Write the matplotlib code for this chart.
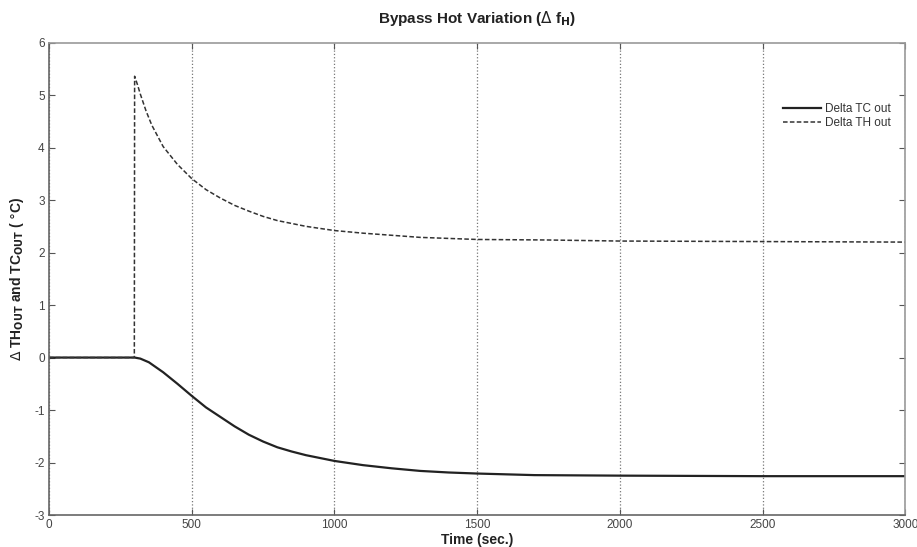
import matplotlib
matplotlib.use("Agg")
import matplotlib.pyplot as plt

plt.rcParams['font.family'] = ['Liberation Sans', 'DejaVu Sans']
plt.rcParams['axes.unicode_minus'] = False

# time points (sec) and values
t_tc = [0, 300, 320, 350, 400, 450, 500, 550, 600, 650, 700, 750, 800, 850, 900,
        1000, 1100, 1200, 1300, 1400, 1500, 1700, 2000, 2500, 3000]
delta_tc = [0, 0, -0.02, -0.09, -0.28, -0.50, -0.73, -0.95, -1.13, -1.31, -1.47, -1.60,
            -1.71, -1.79, -1.86, -1.97, -2.05, -2.11, -2.16, -2.19, -2.21, -2.24,
            -2.25, -2.26, -2.26]

t_th = [0, 299, 300, 310, 320, 340, 360, 400, 450, 500, 550, 600, 650, 700, 750, 800,
        900, 1000, 1100, 1200, 1300, 1400, 1500, 1750, 2000, 2500, 3000]
delta_th = [0, 0, 5.36, 5.2, 5.02, 4.7, 4.43, 4.02, 3.68, 3.41, 3.2, 3.04, 2.9, 2.79,
            2.69, 2.61, 2.5, 2.42, 2.37, 2.33, 2.29, 2.27, 2.25, 2.24, 2.22, 2.21, 2.2]

fig = plt.figure(figsize=(9.17, 5.47), dpi=100)
ax = fig.add_axes([0.0534, 0.0585, 0.934, 0.8635])

ax.plot(t_tc, delta_tc, color='#222222', lw=1.6, label='Delta TC out')
ax.plot(t_th, delta_th, color='#333333', lw=1.1, ls=(0, (3, 1.5)), label='Delta TH out')

ax.set_xlim(0, 3000)
ax.set_ylim(-3, 6)
ax.set_xticks(range(0, 3001, 500))
ax.set_yticks(range(-3, 7))
ax.xaxis.grid(True, ls=':', color='#777777', lw=0.9)

ax.tick_params(direction='in', length=4, colors='#555555', labelcolor='#444444',
               labelsize=8.5, top=True, right=True)
ax.tick_params(axis='x', pad=3)
ax.tick_params(axis='y', pad=3)
for side in ['left', 'bottom']:
    ax.spines[side].set_color('#666666')
for side in ['top', 'right']:
    ax.spines[side].set_color('#999999')
for s in ax.spines.values():
    s.set_linewidth(1.2)

ax.set_title(r'Bypass Hot Variation ($\Delta$ f$_{\mathbf{H}}$)', fontsize=11,
             fontweight='bold', pad=14, color='#222222')
ax.set_xlabel('Time (sec.)', fontsize=10, fontweight='bold', labelpad=1, color='#222222')
ax.set_ylabel(r'$\Delta$ TH$_{\mathbf{OUT}}$ and TC$_{\mathbf{OUT}}$ ( $\degree$C)',
              fontsize=10, fontweight='bold', labelpad=6, color='#222222')

leg = ax.legend(loc='upper right', bbox_to_anchor=(0.995, 0.895), frameon=False,
                fontsize=8.5, handlelength=3.2, handletextpad=0.3, labelspacing=0.15)
for txt in leg.get_texts():
    txt.set_color('#333333')

fig.savefig('out.png', dpi=100)
